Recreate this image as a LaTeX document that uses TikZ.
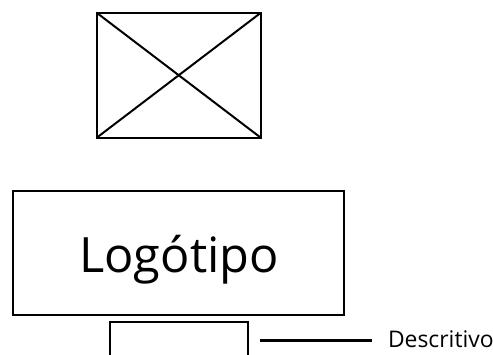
\documentclass[tikz,border=0pt]{standalone}
\usepackage{fontspec}
\setmainfont{Open Sans}
\tikzset{
  box/.style={draw=black,line width=2pt,inner sep=0pt,outer sep=0pt,fill=white},
  lbl/.style={inner sep=0pt,outer sep=0pt,text=black},
}
\begin{document}
\begin{tikzpicture}[x=1pt,y=-1pt]
\useasboundingbox (0,0) rectangle (493,354);
\clip (0,0) rectangle (493,354);
\fill[white] (0,0) rectangle (493,354);
% image placeholder
\node[box,minimum width=163.5pt,minimum height=124.5pt] (img) at (178.75,75.25) {};
\draw[line width=2pt] (img.north west) -- (img.south east);
\draw[line width=2pt] (img.south west) -- (img.north east);
% logo
\node[box,minimum width=331pt,minimum height=123.5pt] (logo) at (178.5,252.75) {};
\node[lbl,anchor=base,font=\fontsize{48.7}{54}\selectfont] (logotxt) at (179,272.7) {Logótipo};
% descriptor box, cut off by the page edge
\node[box,minimum width=138.5pt,minimum height=60pt] (desc) at (178.75,352) {};
\node[lbl,anchor=base west,font=\fontsize{22.9}{26}\selectfont] (desctxt) at (388,347.5) {Descritivo};
\coordinate (linestart) at (260,340);
\draw[line width=3pt] (linestart) -- (372,340);
\end{tikzpicture}
\end{document}
